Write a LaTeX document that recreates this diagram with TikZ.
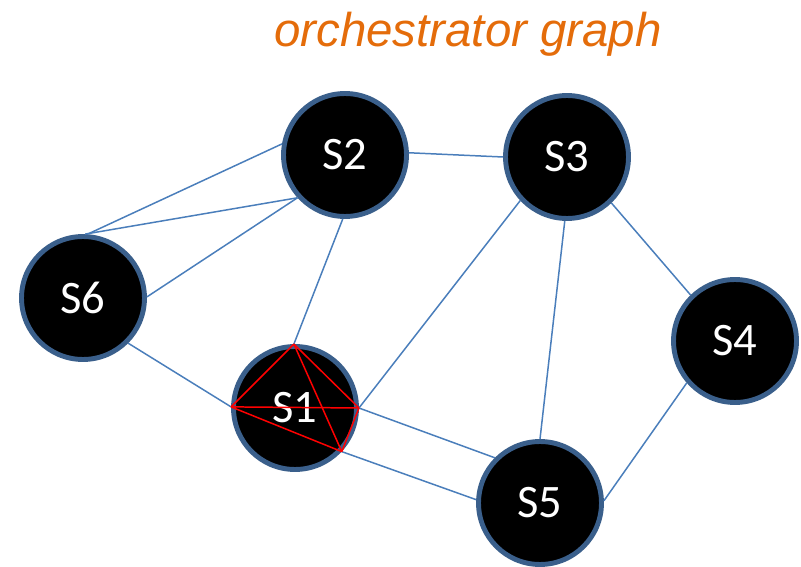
\documentclass[tikz,border=0pt]{standalone}
\usepackage{fontspec}
\setmainfont{Carlito}
\newfontfamily\titlefont{Liberation Sans}
\definecolor{ringblue}{HTML}{3A5F8B}
\definecolor{edgeblue}{HTML}{4A7EBB}
\definecolor{titleorange}{HTML}{E46C0A}
\begin{document}
\begin{tikzpicture}[
    x=0.02cm, y=-0.02cm,
    server/.style={circle,fill=black,draw=ringblue,line width=2.8pt,
        minimum size=2.46cm,inner sep=0pt,text=white,
        font=\fontsize{26.5}{31}\selectfont},
    link/.style={draw=edgeblue,line width=0.85pt},
    clique/.style={draw=red,line width=0.85pt}
]
\useasboundingbox (0,0) rectangle (801,567);

\node[font=\titlefont\itshape\fontsize{27}{32}\selectfont,text=titleorange,
    anchor=base] (title) at (468,47) {orchestrator graph};

\node[server] (S2) at (345,155) {S2};
\node[server] (S3) at (567,157) {S3};
\node[server] (S6) at (83,298) {S6};
\node[server] (S4) at (735,341) {S4};
\node[server] (S1) at (295,408) {S1};
\node[server] (S5) at (540,503) {S5};

\draw[link] (S2.2) -- (S3.180);
\draw[link] (S2.170) -- (S6.86);
\draw[link] (S2.222) -- (S6.88);
\draw[link] (S2.222) -- (S6.1);
\draw[link] (S2.268) -- (S1.91);
\draw[link] (S6.-45) -- (S1.179);
\draw[link] (S3.223) -- (S1.0);
\draw[link] (S3.268) -- (S5.90);
\draw[link] (S3.-46) -- (S4.134);
\draw[link] (S4.221) -- (S5.2);
\draw[link] (S1.0) -- (S5.135);
\draw[link] (S1.-43) -- (S5.177);

% red clique inside S1
\draw[clique] (S1.91) -- (S1.179);
\draw[clique] (S1.91) -- (S1.0);
\draw[clique] (S1.91) -- (S1.-43);
\draw[clique] (S1.179) -- (S1.0);
\draw[clique] (S1.179) -- (S1.-43);
\draw[clique] (S1.0) -- (S1.-43);

\end{tikzpicture}
\end{document}
